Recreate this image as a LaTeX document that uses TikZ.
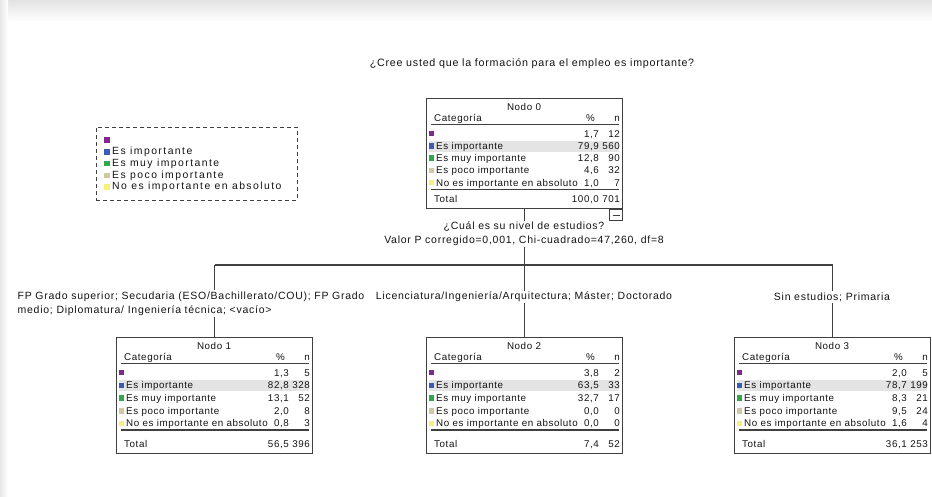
\documentclass[tikz,border=0pt]{standalone}
\usepackage{fontspec}
\newfontfamily\spss[LetterSpace=6]{Liberation Sans}
\newfontfamily\spssw[LetterSpace=7]{Liberation Sans}
\newfontfamily\spssl[LetterSpace=14]{Liberation Sans}
\definecolor{cPurple}{HTML}{7E2A8C}
\definecolor{cBlue}{HTML}{3A5BB0}
\definecolor{cGreen}{HTML}{2FA84A}
\definecolor{cTan}{HTML}{CFC8A3}
\definecolor{cYellow}{HTML}{F3F27A}
\definecolor{cLine}{HTML}{404040}
\definecolor{cText}{HTML}{141414}
\definecolor{cHi}{HTML}{E4E4E4}
\tikzset{
  txt/.style={font=\spss\fontsize{9.8}{12.3}\selectfont, text=cText, inner sep=0pt},
  otxt/.style={font=\spssw\fontsize{10.5}{14}\selectfont, text=cText, inner sep=0pt},
  ltxt/.style={font=\spssl\fontsize{10.4}{14}\selectfont, text=cText, inner sep=0pt},
  lbl/.style={otxt, fill=white, inner sep=1.5pt},
  boxst/.style={draw=cLine, line width=1.2pt, inner sep=0pt, minimum width=196pt, anchor=north west},
  rule/.style={draw=cLine, line width=1.3pt},
  conn/.style={draw=cLine, line width=1.2pt},
  legendbox/.style={draw=cLine, dashed, dash pattern=on 4pt off 3pt, line width=0.9pt, inner sep=0pt, minimum width=201pt, minimum height=73pt, anchor=north west},
}
% #1 name, #2 x0, #3 y0, #4 title, #5 values list, #6 total pct, #7 total n, #8 row step, #9 box height
\newcommand\treebox[9]{%
  \begin{scope}[shift={(#2,#3)}]
    \node[boxst, minimum height=#9pt] (#1) at (0,0) {};
    \fill[cHi] (3,{39-8.5+#8}) rectangle (193,{39+2.5+#8});
    \node[txt] (#1-t) at (98,9) {#4};
    \node[txt, anchor=base west] (#1-c) at (8,23) {Categoría};
    \node[txt, anchor=base east] (#1-ph) at (169,23) {\%};
    \node[txt, anchor=base east] (#1-nh) at (194,23) {n};
    \draw[rule] (5,26.5) -- (193,26.5);
    \foreach \cc [count=\i] in {cPurple,cBlue,cGreen,cTan,cYellow}{
      \fill[\cc] (2.5,{39-3.4-2.8+#8*(\i-1)}) rectangle ++(5.6,5.6);
    }
    \foreach \lab [count=\i from 2] in {Es importante, Es muy importante, Es poco importante, No es importante en absoluto}{
      \node[txt, anchor=base west] (#1-l\i) at (10,{39+#8*(\i-1)}) {\lab};
    }
    \foreach \p/\n [count=\i] in {#5}{
      \node[txt, anchor=base east] (#1-p\i) at (173,{39+#8*(\i-1)}) {\p};
      \node[txt, anchor=base east] (#1-n\i) at (194,{39+#8*(\i-1)}) {\n};
    }
    \draw[rule] (5,{39+4*#8+3.3}) -- (193,{39+4*#8+3.3});
    \node[txt, anchor=base west] (#1-tl) at (8,{#9-6}) {Total};
    \node[txt, anchor=base east] (#1-tp) at (173,{#9-6}) {#6};
    \node[txt, anchor=base east] (#1-tn) at (194,{#9-6}) {#7};
  \end{scope}%
}
\begin{document}
\begin{tikzpicture}[x=1pt, y=-1pt]
  \useasboundingbox (0,0) rectangle (932,496);
  \fill[white] (0,0) rectangle (932,496);
  \shade[top color=gray!22, bottom color=white] (0,0) rectangle (932,22);
  \shade[left color=gray!18, right color=white] (0,0) rectangle (8,496);

  % title
  \node[otxt, font=\spssw\fontsize{10.7}{14}\selectfont] (title) at (532,64) {¿Cree usted que la formación para el empleo es importante?};

  % legend
  \node[legendbox] (legend) at (96,127) {};
  \foreach \cc/\lab [count=\i] in {cPurple/{}, cBlue/Es importante, cGreen/Es muy importante, cTan/Es poco importante, cYellow/No es importante en absoluto}{
    \fill[\cc] (104,{140-2.8+11.8*(\i-1)}) rectangle ++(5.6,5.6);
    \node[ltxt, anchor=west] (leg\i) at (112,{140+11.8*(\i-1)}) {\lab};
  }

  % tree nodes
  \treebox{n0}{426}{98}{Nodo 0}{1{,}7/12, 79{,}9/560, 12{,}8/90, 4{,}6/32, 1{,}0/7}{100{,}0}{701}{12.25}{110}
  \treebox{n1}{116}{337}{Nodo 1}{1{,}3/5, 82{,}8/328, 13{,}1/52, 2{,}0/8, 0{,}8/3}{56{,}5}{396}{12.7}{116}
  \treebox{n2}{426}{337}{Nodo 2}{3{,}8/2, 63{,}5/33, 32{,}7/17, 0{,}0/0, 0{,}0/0}{7{,}4}{52}{12.7}{116}
  \treebox{n3}{734}{337}{Nodo 3}{2{,}0/5, 78{,}7/199, 8{,}3/21, 9{,}5/24, 1{,}6/4}{36{,}1}{253}{12.7}{116}

  % collapse toggle under node 0
  \node[draw=cLine, line width=1pt, minimum width=13pt, minimum height=11pt, inner sep=0pt, anchor=north east] (tog) at (n0.south east) {};
  \draw[cLine, line width=0.9pt] ([xshift=-3.5pt]tog.center) -- ([xshift=3.5pt]tog.center);

  % connectors
  \coordinate (barL) at (n1.north |- 0,265);
  \coordinate (barR) at (n3.north |- 0,265);
  \draw[conn] (barL) -- (barR);
  \draw[conn] (n0.south) -- (n0.south |- barL);
  \draw[conn] (barL) -- (n1.north);
  \draw[conn] (n2.north |- barL) -- (n2.north);
  \draw[conn] (barR) -- (n3.north);

  % split labels
  \node[lbl, align=center] (split) at (524,234) {¿Cuál es su nivel de estudios?\\Valor P corregido=0,001, Chi-cuadrado=47,260, df=8};

  % branch labels
  \node[lbl, align=left, anchor=north west] (br1) at (16,290) {FP Grado superior; Secudaria (ESO/Bachillerato/COU); FP Grado\\medio; Diplomatura/ Ingeniería técnica; <vacío>};
  \node[lbl] (br2) at (524,297) {Licenciatura/Ingeniería/Arquitectura; Máster; Doctorado};
  \node[lbl] (br3) at (832,297) {Sin estudios; Primaria};
\end{tikzpicture}
\end{document}
